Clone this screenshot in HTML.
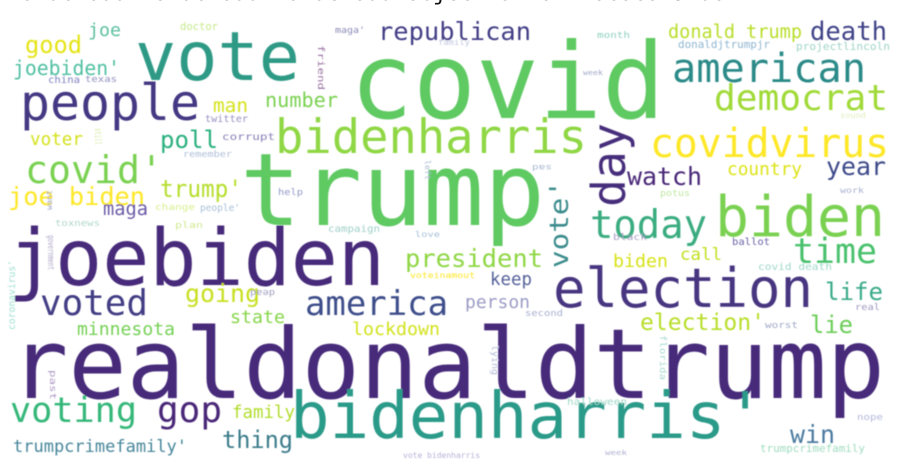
<!DOCTYPE html>
<html><head><meta charset="utf-8">
<style>
html,body{margin:0;padding:0;background:#fff;width:904px;height:470px;overflow:hidden}
svg{display:block}
text{font-family:"DejaVu Sans Mono","Liberation Mono",monospace;}
</style></head>
<body>
<svg id="cloud" width="904" height="470" viewBox="0 0 904 470">
<defs><filter id="soft"><feGaussianBlur stdDeviation="0.5"/></filter></defs>
<text x="-6" y="0" font-size="21" fill="#111" textLength="745" lengthAdjust="spacingAndGlyphs">&lt;wordcloud.wordcloud.WordCloud object at 0x7f0c0c0f91d0&gt;</text>
<g id="words" filter="url(#soft)"></g>
</svg>
<script>
// word, left x, baseline y, font size, width, color, rotation
const words = ["covid","trump","realdonaldtrump","joebiden","vote","people","bidenharris","covid'","joe biden","trump'","maga","good","joe","joebiden'","republican","donald trump","death","american","democrat","day","covidvirus","country","year","watch","today","biden","vote'","time","election","president","biden","call","keep","person","life","election'","lie","america","voted","going","state","minnesota","lockdown","voting","gop","family","thing","trumpcrimefamily'","bidenharris'","win","number","man","poll","voter","china","texas","doctor","maga'","month","donaldjtrumpjr","projectlincoln","sound","week","potus","work","black","ballot","covid death","second","real","worst","twitter","corrupt","remember","help","change","people'","plan","campaign","love","toxnews","halloween","nope","trumpcrimefamily","vote bidenharris","week","family","friend","left","lying","florida","coronavirus'","past","government","still","want","dead","voteinamout","sad"];
const xs = [350,240,10,8,135,20,275,25,8,160,103,25,88,13,378,668,810,672,714,625,650,727,826,627,590,715,568,793,553,405,613,680,490,465,825,640,810,305,40,185,230,77,352,10,157,232,222,13,290,790,265,213,160,30,48,85,180,335,597,678,796,840,583,660,840,613,732,758,525,855,765,205,222,183,278,155,200,175,328,415,55,567,857,760,403,605,438,318,425,492,660,15,50,48,95,52,275,410,552];
const ys = [118,225,398,285,80,120,153,183,205,197,215,53,36,75,40,38,40,82,110,207,157,175,175,185,238,236,268,263,307,267,267,260,285,308,300,330,333,315,315,302,323,335,335,422,422,418,448,452,438,443,107,112,148,145,83,82,30,33,38,48,50,118,75,196,193,240,245,270,316,310,328,122,140,157,195,210,211,228,232,237,226,405,420,452,458,455,45,45,160,345,335,330,370,235,128,210,290,278,165];
const sizes = [105,101,97,78,68,50,47,38,25,24,19,24,18,20,25,18.5,25.5,40,36,46,40,18,25,25,39,56,26,35,54,25,18,17,17.5,18,24,23,24,34,36,25,18,18,18,35,36,17.5,24,17,64,25,20,19,24,18,10,9,11,9,9,11,11,8,7,9,8,9,10,10,9,9,9,10,10,9,9,9,10,9,10,8,9,10,9,11,8,7,8,9,8,9,9,10,9,9,9,8,9,8,8];
const widths = [315,305,875,377,165,180,312,138,137,82,45,57,33,107,153,134,77,194,174,84,239,75,60,75,117,170,88,84,260,138,55,42,42,65,58,125,43,143,108,75,55,98,88,127,65,63,71,174,475,45,73,35,58,53,32,32,38,30,33,92,94,26,20,30,24,34,38,74,38,25,33,43,53,49,25,40,40,28,52,25,45,60,26,105,77,22,32,45,20,30,45,70,30,35,17,20,25,65,20];
const colors = ["#5ec962","#5ec962","#472c7a","#472c7a","#2e9a86","#443983","#8fd744","#7ad151","#fde725","#b5de2b","#6a5aa6","#e5e419","#5cc0a0","#51c0a2","#433e85","#b8de29","#404387","#2a8a88","#a0da39","#472d7b","#fde725","#dde318","#3e4a89","#482878","#3aac80","#7ad151","#3b8b8c","#4ac16d","#463480","#8fd744","#d8e219","#c2df23","#55609a","#9b9bc6","#3aaa8a","#b8de29","#6ccd5a","#3e4d8a","#433d84","#c8e020","#86d549","#75d054","#d2e21b","#35b779","#482677","#b2dd2d","#3b7c8a","#47869a","#2c9a89","#4c7ca0","#7ad151","#d5e21a","#2ab07f","#d4e21a","#7f7fbf","#9090c0","#c6e98a","#8a8ab8","#8fd0c0","#8fb5d0","#9fd4c8","#e0eec0","#a0a8c8","#c0e8a0","#a8b0d0","#a8a0c8","#6b64a8","#a0d8c8","#a8b0d0","#a098c0","#a0a8c8","#9890c0","#8a80b8","#b0c0d8","#9098c8","#d8ee90","#a8c0d8","#d0ea90","#a0d0c8","#a8c0d8","#b0d8c8","#a0d8c8","#b0b8d8","#a0dcc0","#b8b0d8","#b0b0d0","#c0c8e0","#9870a0","#a8b8d0","#b0b8d8","#a8d8d0","#a0e0d0","#b09cc8","#b0a8c8","#d8e8a0","#a0a8c8","#a0a0c0","#fde725","#a8b8d0"];
const rots = [0,0,0,0,0,0,0,0,0,0,0,0,0,0,0,0,0,0,0,-90,0,0,0,0,0,0,-90,0,0,0,0,0,0,0,0,0,0,0,0,0,0,0,0,0,0,0,0,0,0,0,0,0,0,0,0,0,0,0,0,0,0,0,0,0,0,0,0,0,0,0,0,0,0,0,0,0,0,0,0,0,0,0,0,0,0,0,0,90,90,90,90,-90,90,90,90,-90,180,0,180];
const layer = document.getElementById('words');
const NS = 'http://www.w3.org/2000/svg';
words.forEach((w,i)=>{
  const t = document.createElementNS(NS,'text');
  
  
  t.setAttribute('x', xs[i]);
  t.setAttribute('y', ys[i]);
  t.setAttribute('font-size', sizes[i]);
  t.setAttribute('fill', colors[i]);
  t.setAttribute('textLength', widths[i]);
  t.setAttribute('lengthAdjust', 'spacingAndGlyphs');
  if (rots[i]) t.setAttribute('transform', `rotate(${rots[i]} ${xs[i]} ${ys[i]})`);
  t.textContent = w;
  layer.appendChild(t);
});
</script>
</body></html>
